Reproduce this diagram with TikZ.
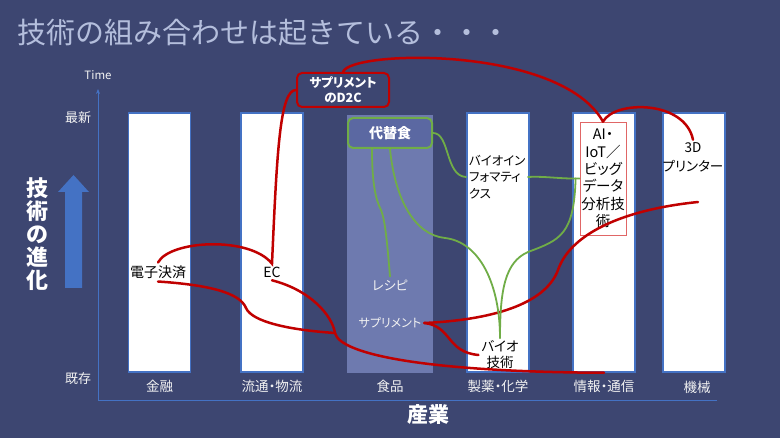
\documentclass[tikz,border=0pt]{standalone}
\usepackage{fontspec}
\setmainfont{Noto Sans CJK JP}[RawFeature=+palt]
\newfontfamily\titlefont{Noto Sans CJK JP}
\usetikzlibrary{arrows.meta}
\definecolor{bg}{HTML}{3D4671}
\definecolor{barblue}{HTML}{4472C4}
\definecolor{foodc}{HTML}{6E7AAF}
\definecolor{altc}{HTML}{5B68A2}
\definecolor{greenc}{HTML}{70AD47}
\definecolor{redc}{HTML}{C00000}
\definecolor{aiframe}{HTML}{E06666}
\definecolor{titlec}{HTML}{B4BEDC}
\definecolor{labwhite}{HTML}{F2F2F2}
\newcommand\fsz[2]{\fontsize{#1}{#2}\selectfont}

\begin{document}
\begin{tikzpicture}[x=1pt, y=-1pt,
    bar/.style={draw=barblue, line width=1.5pt, fill=white, minimum width=62pt, minimum height=259pt, inner sep=0pt},
    txt/.style={text=black, font=\fsz{13}{16}, inner sep=1pt, outer sep=2pt, align=center},
    wtxt/.style={txt, text=labwhite},
    colname/.style={text=labwhite, font=\fsz{13.5}{16}},
    redline/.style={draw=redc, line width=2.5pt, line cap=round},
    greenline/.style={draw=greenc, line width=1.8pt, line cap=round}]
        \fill[bg] (0,0) rectangle (780,438);
        \node[anchor=west, text=titlec, font=\titlefont\fsz{29}{32}] at (14,33)(title){技術の組み合わせは起きている・・・};

        % axes
        \coordinate (origin) at (98,400);
        \coordinate (ytop) at (98,89);
        \coordinate (xend) at (717,400);
        \draw[barblue, line width=0.8pt, -{Stealth[length=5pt,width=4pt]}] (origin) -- (ytop);
        \draw[barblue, line width=0.8pt] (origin) -- (xend);
        \node[text=labwhite, font=\fsz{11.5}{13}] at (98,75)(time){Time};
        \node[text=labwhite, font=\fsz{13}{15}] at (78,118)(newest){最新};
        \node[text=labwhite, font=\fsz{13}{15}] at (78,379)(old){既存};
        \fill[barblue] (65,288) -- (65,192) -- (58,192) -- (73.5,175) -- (89,192) -- (82,192) -- (82,288) -- cycle;
        \node[text=white, font=\bfseries\fsz{22}{23}, align=center] at (37,234)(evo){技\\術\\の\\進\\化};

        % columns
        \node[bar] at (159.5,242.5)(fin){};
        \node[bar] at (272,242.5)(dist){};
        \node[fill=foodc, minimum width=86pt, minimum height=258pt, inner sep=0pt] at (390,244)(food){};
        \node[bar] at (498,242.5)(pharma){};
        \node[bar] at (604,242.5)(info){};
        \node[bar] at (694,242.5)(mech){};
        \node[colname] at (159.5,386)(nfin){金融};
        \node[colname] at (272,386)(ndist){流通・物流};
        \node[colname] at (390,386)(nfood){食品};
        \node[colname] at (498,386)(npharma){製薬・化学};
        \node[colname] at (604,386)(ninfo){情報・通信};
        \node[colname] at (697,387)(nmech){機械};
        \node[text=white, font=\bfseries\fsz{21}{24}] at (428,415)(ind){産業};

        % boxes and labels
        \node[draw=redc, line width=2pt, rounded corners=5pt, fill=bg, text=white, font=\bfseries\fsz{12.5}{15}, align=center, minimum width=92pt, minimum height=34pt, inner sep=1pt] at (343,90)(d2c){サプリメント\\のD2C};
        \node[draw=greenc, line width=2pt, rounded corners=5pt, fill=altc, text=white, font=\bfseries\fsz{14}{16}, minimum width=84pt, minimum height=30pt] at (390,133)(alt){代替食};
        \node[draw=aiframe, line width=0.8pt, fill=white, font=\fsz{14.5}{17.4}, align=center, minimum width=46pt, minimum height=113pt, inner sep=1pt] at (603,178.5)(ai){AI・\\IoT／\\ビッグ\\データ\\分析技\\術};
        \node[txt, font=\fsz{14}{16}] at (158,272)(pay){電子決済};
        \node[txt, font=\fsz{14}{16}] at (272,272)(ec){EC};
        \node[txt, font=\fsz{13.5}{19}] at (693,157.5)(print){3D\\プリンター};
        \node[txt, align=left, anchor=west, text width=56pt, font=\fsz{12.5}{16.5}] at (466,177)(bioinfo){バイオイン\\フォマティ\\クス};
        \node[txt, font=\fsz{13.5}{16}] at (500,355)(bio){バイオ\\技術};
        \node[wtxt] at (390,285)(recipe){レシピ};
        \node[wtxt, font=\fsz{12}{14}] at (390,323)(supp){サプリメント};

        % red links
        \coordinate (joint) at (335,333);
        \coordinate (mechend) at (698,202);
        \draw[redline] (pay.north) .. controls (170,240) and (250,236) .. (ec.north)
            .. controls (277,150) and (280,90) .. (d2c.west);
        \draw[redline] (pay.south) .. controls (210,285) and (240,293) .. (246,308)
            .. controls (252,322) and (290,330) .. (joint);
        \draw[redline] (ec.south) .. controls (310,290) and (332,315) .. (joint)
            .. controls (340,355) and (430,372) .. (info.south);
        \draw[redline] (d2c.north) .. controls (350,50) and (560,45) .. (ai.north);
        \draw[redline] (ai.north) .. controls (615,100) and (685,100) .. (print.north);
        \draw[redline] (supp.east) .. controls (490,320) and (545,305) .. (558,270)
            .. controls (570,235) and (620,210) .. (mechend);
        \draw[redline] (supp.east) .. controls (452,326) and (446,352) .. (bio.west);

        % green links
        \coordinate (aifork) at ([xshift=-4pt]ai.west);
        \draw[greenline] ([xshift=-18pt]alt.south) .. controls (372,185) and (376,200) .. (381,210)
            .. controls (385,220) and (387,240) .. (recipe.north);
        \draw[greenline] (alt.south) .. controls (395,200) and (415,235) .. (445,238)
            .. controls (480,242) and (500,285) .. (bio.north);
        \draw[greenline] (alt.east) .. controls (450,133) and (445,176) .. (bioinfo.west);
        \draw[greenline] (bioinfo.east) .. controls (545,176) and (560,179) .. (ai.west);
        \draw[greenline] (aifork) .. controls (574,235) and (560,240) .. (528,252)
            .. controls (505,262) and (500,290) .. (bio.north);
    \end{tikzpicture}
\end{document}
